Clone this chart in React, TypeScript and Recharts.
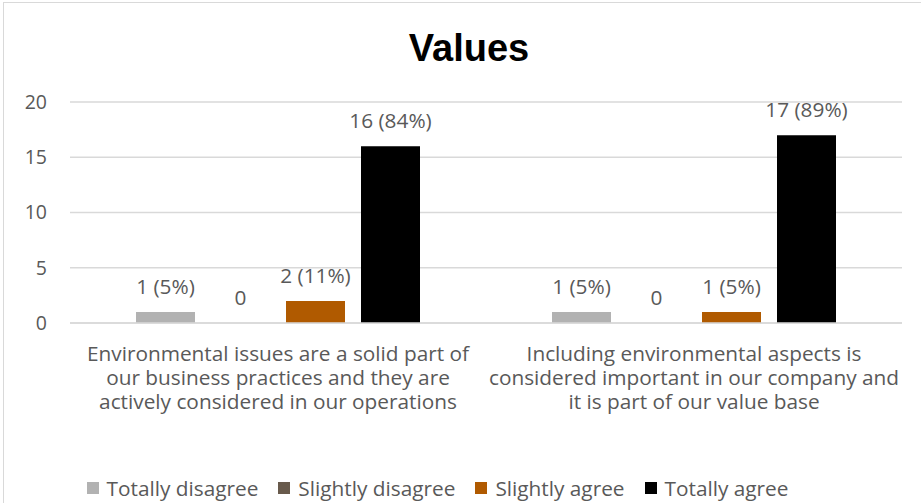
import React from "react";
import { BarChart, Bar, XAxis, YAxis, CartesianGrid, Legend, LabelList } from "recharts";

const categories = ["c1", "c2"];
const categoryLines = [
  ["Environmental issues are a solid part of", "our business practices and they are", "actively considered in our operations"],
  ["Including environmental aspects is", "considered important in our company and", "it is part of our value base"],
];
const totallyDisagree = [1, 1];
const slightlyDisagree = [0, 0];
const slightlyAgree = [2, 1];
const totallyAgree = [16, 17];
const tdPct = ["5%", "5%"];
const sdPct = ["", ""];
const saPct = ["11%", "5%"];
const taPct = ["84%", "89%"];
const yTicks = [0, 5, 10, 15, 20];

const seriesNames = ["Totally disagree", "Slightly disagree", "Slightly agree", "Totally agree"];
const seriesColors = ["#b2b2b2", "#685a4c", "#b05a00", "#000000"];

const fmt = (v: number, p: string) => (p ? `${v} (${p})` : `${v}`);

const data = categories.map((c, i) => ({
  name: c,
  td: totallyDisagree[i],
  sd: slightlyDisagree[i],
  sa: slightlyAgree[i],
  ta: totallyAgree[i],
  tdL: fmt(totallyDisagree[i], tdPct[i]),
  sdL: fmt(slightlyDisagree[i], sdPct[i]),
  saL: fmt(slightlyAgree[i], saPct[i]),
  taL: fmt(totallyAgree[i], taPct[i]),
}));

const FONT = "'Open Sans', sans-serif";
const TXT = "#595959";
const FS = 20.8;

const CatTick = (props: any) => {
  const { x, y, payload } = props;
  const lines = categoryLines[payload.index] || [];
  return (
    <text x={x} y={y} textAnchor="middle" fill={TXT} fontFamily={FONT} fontSize={FS}>
      {lines.map((l, i) => (
        <tspan key={i} x={x} dy={i === 0 ? 30 : 24}>
          {l}
        </tspan>
      ))}
    </text>
  );
};

const renderLabel = (props: any) => {
  const { x, y, width, value } = props;
  return (
    <text x={Number(x) + Number(width) / 2} y={Number(y) - 18} textAnchor="middle" fill={TXT} fontFamily={FONT} fontSize={FS}>
      {value}
    </text>
  );
};

const LegendContent = () => (
  <div style={{ display: "flex", justifyContent: "center", alignItems: "center", fontFamily: FONT, fontSize: FS, color: TXT }}>
    {seriesNames.map((n, i) => (
      <div key={n} style={{ display: "flex", alignItems: "center", marginRight: i < 3 ? 20 : 0 }}>
        <span style={{ display: "inline-block", width: 12, height: 12, background: seriesColors[i], marginRight: 8 }} />
        <span>{n}</span>
      </div>
    ))}
  </div>
);

export default function App() {
  const keys = ["td", "sd", "sa", "ta"];
  return (
    <div style={{ position: "absolute", left: 0, top: 0, width: 921, height: 503, overflow: "hidden", background: "#fff" }}>
      <div style={{ position: "absolute", left: 3, top: 2, width: 940, height: 520, border: "1px solid #d9d9d9" }} />
      <div
        style={{
          position: "absolute",
          left: 0,
          width: 938,
          top: 26,
          textAlign: "center",
          fontFamily: "'Liberation Sans', Arial, sans-serif",
          fontWeight: "bold",
          fontSize: 38,
          color: "#000",
          lineHeight: "44px",
        }}
      >
        Values
      </div>
      <div style={{ position: "absolute", left: 0, top: 0 }}>
        <BarChart width={921} height={503} data={data} margin={{ top: 102, right: 19, bottom: 80, left: 0 }} barSize={59} barGap={16}>
          <CartesianGrid vertical={false} stroke="#d9d9d9" strokeWidth={1.5} />
          <XAxis dataKey="name" axisLine={{ stroke: "#d9d9d9", strokeWidth: 1.5 }} tickLine={false} tick={<CatTick />} height={100} interval={0} />
          <YAxis
            domain={[0, 20]}
            ticks={yTicks}
            width={70}
            axisLine={false}
            tickLine={false}
            tickMargin={17}
            tick={{ fill: TXT, fontFamily: FONT, fontSize: 19.5 }}
          />
          <Legend verticalAlign="middle" layout="horizontal" content={<LegendContent />} wrapperStyle={{ top: 474, left: -23, width: 921 }} />
          {keys.map((k, i) => (
            <Bar key={k} dataKey={k} name={seriesNames[i]} fill={seriesColors[i]} isAnimationActive={false} minPointSize={0.01}>
              <LabelList dataKey={`${k}L`} position="top" content={renderLabel} />
            </Bar>
          ))}
        </BarChart>
      </div>
    </div>
  );
}
